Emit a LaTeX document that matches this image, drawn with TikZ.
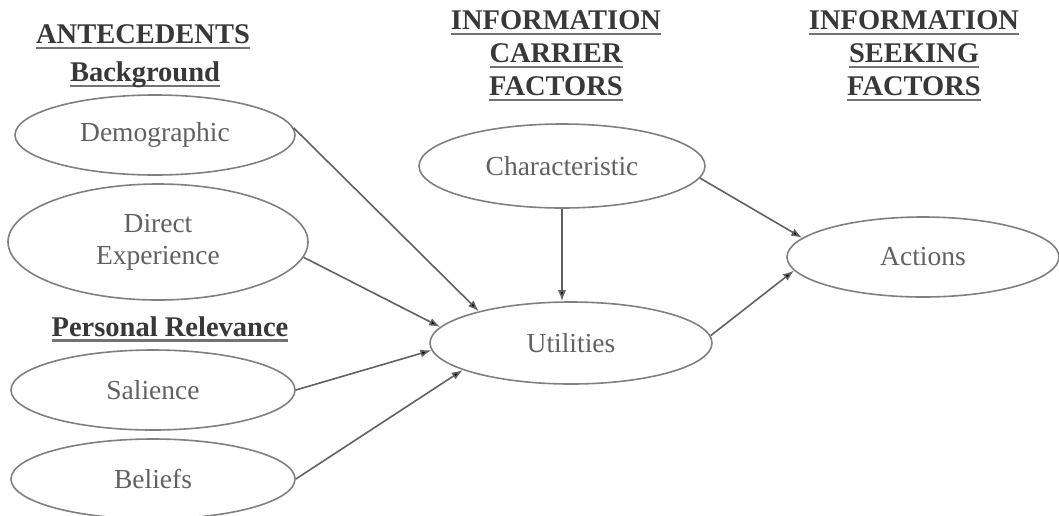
\documentclass[tikz,border=0pt]{standalone}
\usepackage{fontspec}
\setmainfont{Liberation Serif}
\newcommand\ulx[1]{\setbox0\hbox{#1}\leavevmode\rlap{\color{black!55}\vrule height -3pt depth 5.6pt width \wd0}\box0}
\usetikzlibrary{shapes.geometric,arrows.meta}
\begin{document}
\begin{tikzpicture}[x=1pt,y=-1pt,
  ell/.style={ellipse,draw=black!50,line width=1.6pt,inner sep=0pt,
    minimum width=280pt,minimum height=80pt,
    font=\fontsize{27.5}{32}\selectfont,text=black!62,align=center},
  hdr/.style={font=\fontsize{28.5}{33}\selectfont\bfseries,text=black!78,align=center},
  arr/.style={draw=black!62,line width=1.6pt,-{Latex[length=11pt,width=8pt,fill=black]}}]
\useasboundingbox[fill=white] (0,0) rectangle (1059,515);
% headers
\node[hdr] (ante) at (143,37) {\ulx{ANTECEDENTS}};
\node[hdr] (bg) at (145,75) {\ulx{Background}};
\node[hdr] (pers) at (170,329) {\ulx{Personal Relevance}};
\node[hdr] (carrier) at (556,56) {\ulx{INFORMATION}\\\ulx{CARRIER}\\\ulx{FACTORS}};
\node[hdr] (seek) at (914,56) {\ulx{INFORMATION}\\\ulx{SEEKING}\\\ulx{FACTORS}};
% ellipses
\node[ell] (demo) at (155,135) {Demographic};
\node[ell,minimum width=300pt,minimum height=116pt] (direct) at (158,242) {Direct\\Experience};
\node[ell,minimum width=284pt] (sal) at (153,390) {Salience};
\node[ell,minimum width=284pt,minimum height=80pt] (bel) at (153,479) {Beliefs};
\node[ell,minimum width=286pt,minimum height=84pt] (char) at (562,166) {Characteristic};
\node[ell,minimum width=282pt,minimum height=82pt] (util) at (571,343) {Utilities};
\node[ell,minimum width=272pt,minimum height=80pt] (act) at (923,257) {Actions};
% connectors
\draw[arr] (demo.3) -- (util.161);
\draw[arr] (direct.-6) -- (util.173);
\draw[arr] (sal.east) -- (util.183);
\draw[arr] (bel.east) -- (util.194);
\draw[arr] (char.south) -- (char.south |- util.north);
\draw[arr] (char.-5) -- (act.171);
\draw[arr] (util.3) -- (act.186);
\end{tikzpicture}
\end{document}
